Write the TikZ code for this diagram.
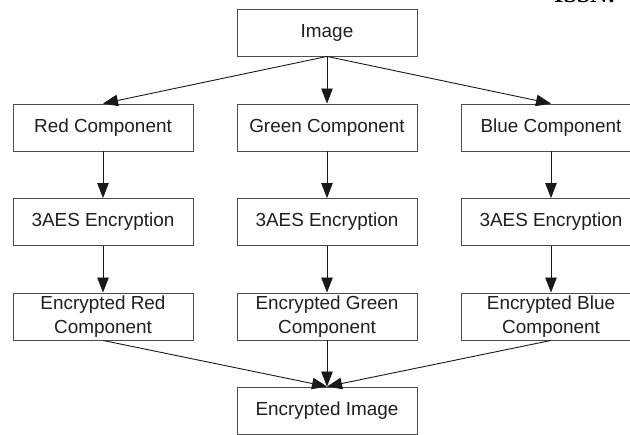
\documentclass[tikz,border=0pt]{standalone}
\usepackage{fontspec}
\setmainfont{Liberation Sans}
\newfontfamily\issnfont{Liberation Serif}
\usetikzlibrary{arrows.meta}
\tikzset{
  box/.style={draw=black!70, line width=0.9pt, minimum width=180pt, minimum height=47pt,
    inner sep=0pt, align=center, text=black!88,
    font=\fontsize{18.9}{24}\selectfont},
  arr/.style={draw=black!90, line width=0.9pt, -{Triangle[length=15pt,width=11.5pt]}}
}
\begin{document}
\begin{tikzpicture}[x=1pt,y=-1pt]
\useasboundingbox (0,0) rectangle (630,435);
\clip (0,0) rectangle (630,435);
\node[anchor=base west, inner sep=0pt, font=\issnfont\bfseries\fontsize{24}{28}\selectfont] (issn) at (554,3) {ISSN:};
\node[box] (img) at (327,32.5) {Image};
\node[box] (rc) at (103,127.5) {Red Component};
\node[box] (gc) at (327,127.5) {Green Component};
\node[box] (bc) at (551,127.5) {Blue Component};
\node[box] (re) at (103,222) {3AES Encryption};
\node[box] (ge) at (327,222) {3AES Encryption};
\node[box] (be) at (551,222) {3AES Encryption};
\node[box] (rx) at (103,316.5) {Encrypted Red\\Component};
\node[box] (gx) at (327,316.5) {Encrypted Green\\Component};
\node[box] (bx) at (551,316.5) {Encrypted Blue\\Component};
\node[box] (ei) at (327,410.5) {Encrypted Image};
\draw[arr] (img.south) -- (rc.north);
\draw[arr] (img.south) -- (gc.north);
\draw[arr] (img.south) -- (bc.north);
\draw[arr] (rc.south) -- (re.north);
\draw[arr] (gc.south) -- (ge.north);
\draw[arr] (bc.south) -- (be.north);
\draw[arr] (re.south) -- (rx.north);
\draw[arr] (ge.south) -- (gx.north);
\draw[arr] (be.south) -- (bx.north);
\draw[arr] (rx.south) -- (ei.north);
\draw[arr] (gx.south) -- (ei.north);
\draw[arr] (bx.south) -- (ei.north);
\end{tikzpicture}
\end{document}
